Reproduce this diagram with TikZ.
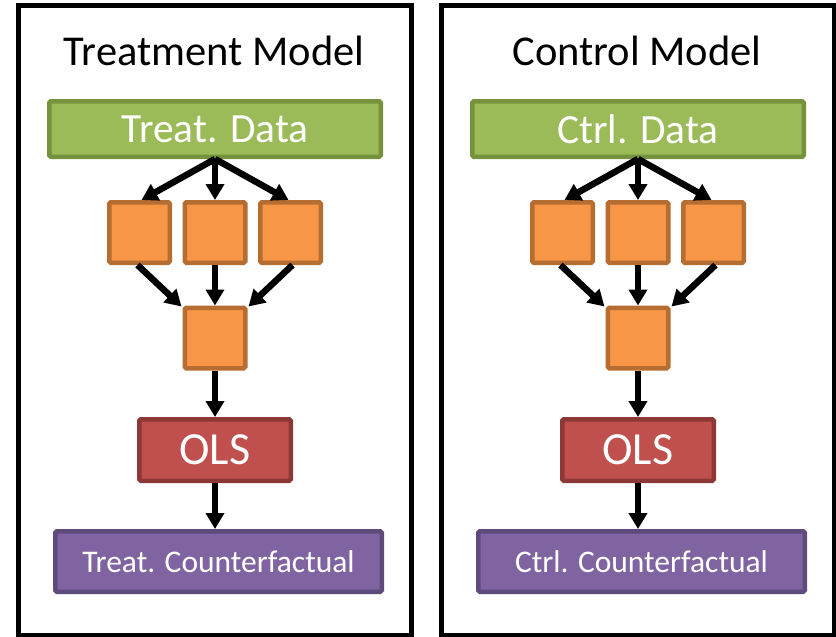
\documentclass[tikz,border=0pt]{standalone}
\usepackage{fontspec}
\setmainfont{Carlito}
\usetikzlibrary{arrows.meta}

\definecolor{greenfill}{HTML}{9BBB59}
\definecolor{greenline}{HTML}{76923C}
\definecolor{orangefill}{HTML}{F79646}
\definecolor{orangeline}{HTML}{B66D31}
\definecolor{redfill}{HTML}{C0504D}
\definecolor{redline}{HTML}{8C3836}
\definecolor{purplefill}{HTML}{8064A2}
\definecolor{purpleline}{HTML}{5F4B7B}

\tikzset{
  panel/.style={draw=black, line width=5pt},
  box/.style={line width=4.5pt, rounded corners=1.5pt, inner sep=0pt, text=white},
  databox/.style={box, fill=greenfill, draw=greenline,
    minimum width=331.5pt, minimum height=55.5pt, font=\fontsize{41.5}{41.5}\selectfont},
  learner/.style={box, fill=orangefill, draw=orangeline,
    minimum width=60.5pt, minimum height=60.5pt},
  olsbox/.style={box, fill=redfill, draw=redline,
    minimum width=151.5pt, minimum height=61.5pt, font=\fontsize{46}{46}\selectfont},
  cfbox/.style={box, fill=purplefill, draw=purpleline,
    minimum width=326.5pt, minimum height=60.5pt, font=\fontsize{31.5}{31.5}\selectfont},
  paneltitle/.style={anchor=base, inner sep=0pt, font=\fontsize{42.5}{42.5}\selectfont},
  flow/.style={line width=6.5pt, -{Triangle[length=16pt,width=18pt]}},
}

% One model panel: #1 name prefix, #2 horizontal shift, #3 title,
% #4 data label, #5 counterfactual label
\newcommand{\modelpanel}[5]{%
  \begin{scope}[xshift=#2]
    \draw[panel] (18.5,5.5) rectangle (411.5,635.5);
    \node[paneltitle] (#1title) at (214,65) {#3};
    \node[databox] (#1data) at (215,129) {#4};
    \node[learner] (#1a) at (139.5,232.5) {};
    \node[learner] (#1b) at (215,232.5) {};
    \node[learner] (#1c) at (290.5,232.5) {};
    \node[learner] (#1meta) at (215,338) {};
    \node[olsbox] (#1ols) at (215,450) {OLS};
    \node[cfbox] (#1cf) at (218.5,561.5) {#5};
    \draw[flow] (#1data.south) -- ([xshift=2pt]#1a.north);
    \draw[flow] (#1data.south) -- (#1b.north);
    \draw[flow] (#1data.south) -- ([xshift=-2pt]#1c.north);
    \draw[flow] ([xshift=-2pt]#1a.south) -- ([xshift=-1pt,yshift=-1pt]#1meta.north west);
    \draw[flow] (#1b.south) -- (#1meta.north);
    \draw[flow] ([xshift=2pt]#1c.south) -- ([xshift=1pt,yshift=-1pt]#1meta.north east);
    \draw[flow] (#1meta.south) -- (#1ols.north);
    \draw[flow] (#1ols.south) -- ([xshift=-3.5pt]#1cf.north);
  \end{scope}%
}

\begin{document}
\begin{tikzpicture}[x=1pt, y=-1pt]
  \useasboundingbox (0,0) rectangle (836,637);
  \fill[white] (0,0) rectangle (836,637);
  \modelpanel{t}{0pt}{Treatment Model}{Treat. Data}{Treat. Counterfactual}
  \modelpanel{c}{423pt}{Control Model}{Ctrl. Data}{Ctrl. Counterfactual}
\end{tikzpicture}
\end{document}
